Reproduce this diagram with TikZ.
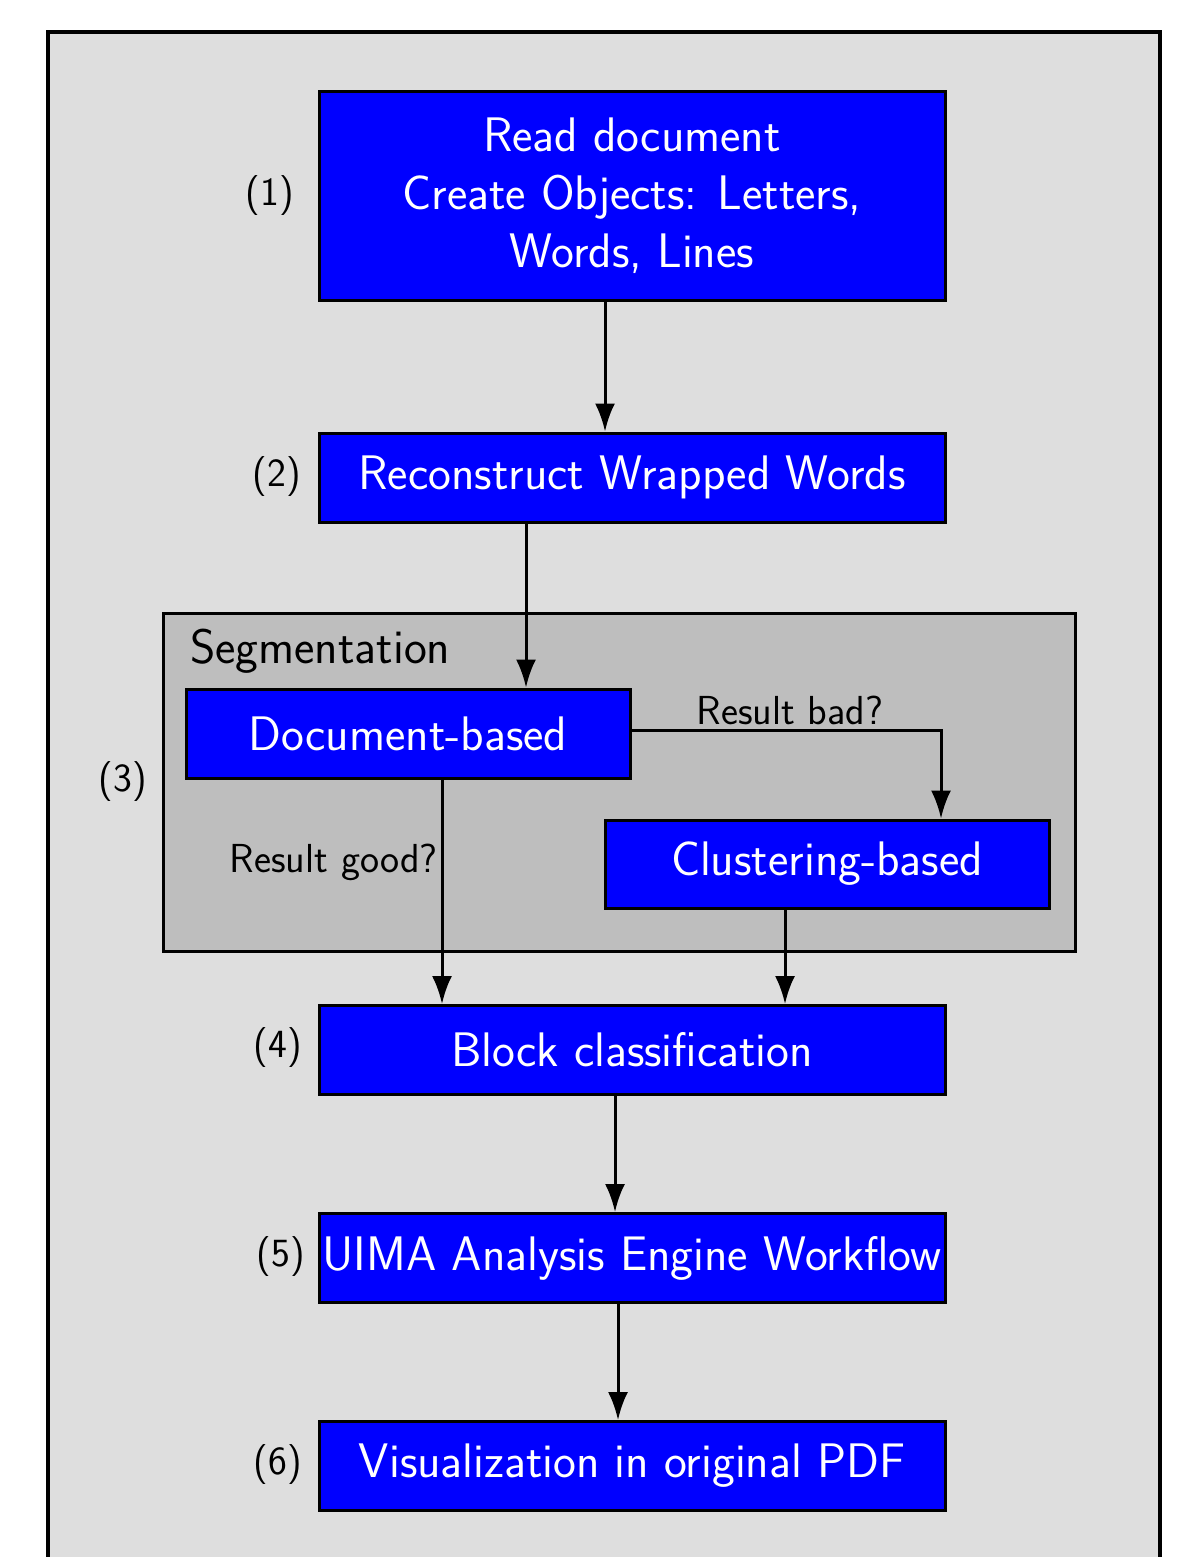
\documentclass[tikz,border=0pt]{standalone}
\usetikzlibrary{arrows.meta}
\definecolor{outerbg}{HTML}{DEDEDE}
\definecolor{segbg}{HTML}{BEBEBE}
\definecolor{boxblue}{HTML}{0000FF}
\tikzset{
  stepbox/.style={rectangle, draw=black, fill=boxblue, line width=3pt, text=white,
    inner sep=0pt, minimum width=626pt, minimum height=89pt, align=center,
    font=\sffamily\fontsize{48.5}{58}\selectfont},
  numlabel/.style={text=black, inner sep=0pt, font=\sffamily\fontsize{40}{48}\selectfont},
  edgelabel/.style={text=black, inner sep=0pt, font=\sffamily\fontsize{40.5}{46}\selectfont},
  arr/.style={line width=3pt, -{Latex[length=28pt,width=20pt]}}
}
\begin{document}
\begin{tikzpicture}[x=1pt,y=-1pt]
\clip (0,0) rectangle (1181,1557);
\fill[white] (0,0) rectangle (1181,1557);
\draw[line width=4pt, fill=outerbg] (48,32) rectangle (1160,1620);
\draw[line width=3pt, fill=segbg] (163,613) rectangle (1075,951);
\node[edgelabel, anchor=west, font=\sffamily\fontsize{48.5}{56}\selectfont] (seg) at (190,651) {Segmentation};

\node[stepbox, minimum height=208pt] (b1) at (632,196) {Read document\\Create Objects: Letters,\\Words, Lines};
\node[stepbox] (b2) at (632,477.5) {Reconstruct Wrapped Words};
\node[stepbox, minimum width=444pt] (doc) at (408,733.5) {Document-based};
\node[stepbox, minimum width=444pt, minimum height=88pt] (clu) at (827,864) {Clustering-based};
\node[stepbox] (b4) at (632,1050) {Block classification};
\node[stepbox] (b5) at (632,1258) {UIMA Analysis Engine Workflow};
\node[stepbox] (b6) at (632,1466) {Visualization in original PDF};

\node[numlabel] (l1) at (270,196) {(1)};
\node[numlabel] (l2) at (277,477) {(2)};
\node[numlabel] (l3) at (123,782) {(3)};
\node[numlabel] (l4) at (278,1048) {(4)};
\node[numlabel] (l5) at (281,1257) {(5)};
\node[numlabel] (l6) at (278,1465) {(6)};

\draw[arr] (605,0 |- b1.south) -- (605,0 |- b2.north);
\draw[arr] (526,0 |- b2.south) -- (526,0 |- doc.north);
\draw[arr] (doc.east |- 0,730) -- (941,730) -- (941,0 |- clu.north);
\node[edgelabel] (bad) at (790,710) {Result bad?};
\draw[arr] (442,0 |- doc.south) -- (442,0 |- b4.north);
\node[edgelabel, anchor=east] (good) at (438,862) {Result good?};
\draw[arr] (785,0 |- clu.south) -- (785,0 |- b4.north);
\draw[arr] (615,0 |- b4.south) -- (615,0 |- b5.north);
\draw[arr] (618,0 |- b5.south) -- (618,0 |- b6.north);
\end{tikzpicture}
\end{document}
